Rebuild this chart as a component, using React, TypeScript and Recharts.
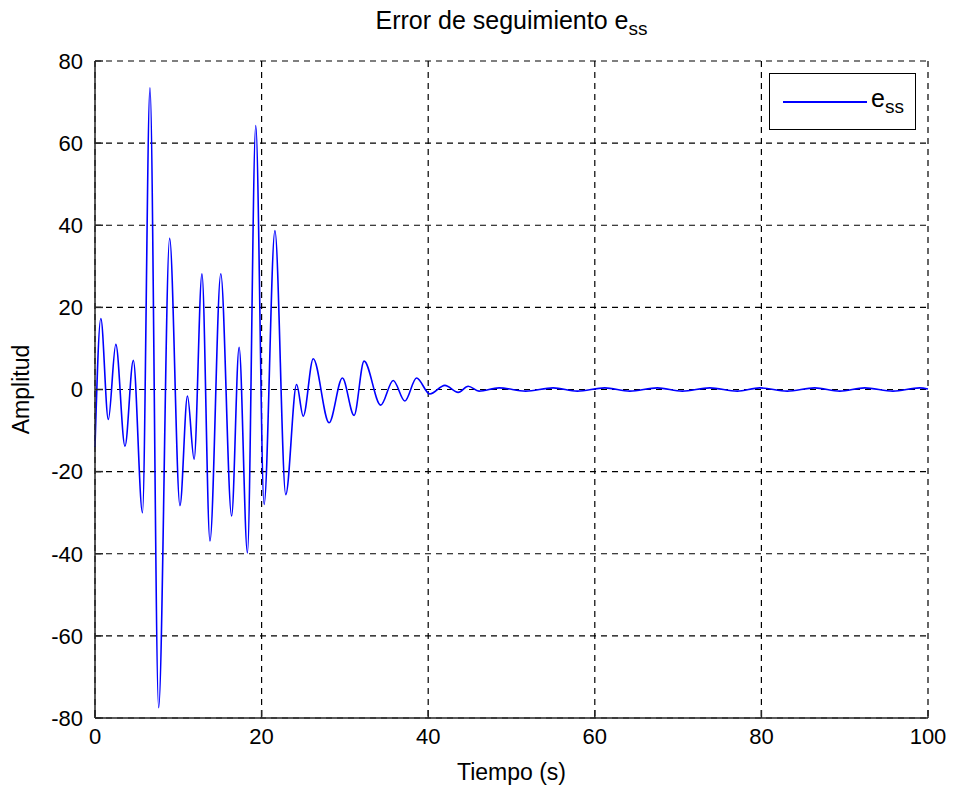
import React from 'react';
import { LineChart, Line, XAxis, YAxis, CartesianGrid } from 'recharts';

// tiempo (s) and tracking error e_ss
const tiempo = [
  0, 0.7, 1.6, 2.5, 3.6, 4.6, 5.7, 6.6, 7.64, 8.96, 10.2, 11.1, 11.9, 12.84, 13.8, 15.1,
  16.4, 17.3, 18.3, 19.3, 20.3, 21.6, 22.9, 24.2, 25.0, 26.2, 28.1, 29.7, 31.1, 32.3,
  34.3, 35.8, 37.2, 38.6, 40.2, 42.0, 43.6, 44.8, 46.1, 48.5, 51.7, 55.0, 57.9, 61.2,
  64.2, 67.5, 70.5, 73.8, 77.1, 79.8, 83.1, 86.4, 89.4, 92.4, 95.8, 99.0, 100
];
const ess = [
  -14, 17.3, -7.3, 11, -13.8, 7.1, -30, 73.5, -77.5, 36.8, -28.3, -1.6, -17, 28.2, -36.9, 28.2,
  -30.8, 10.3, -39.8, 64.3, -28, 38.7, -25.6, 1.2, -6.5, 7.5, -8.1, 2.8, -6.3, 6.9,
  -3.8, 2.2, -2.8, 2.8, -1.1, 1.0, -0.7, 0.8, -0.4, 0.4, -0.4, 0.4, -0.4, 0.4,
  -0.4, 0.4, -0.4, 0.4, -0.4, 0.4, -0.4, 0.4, -0.4, 0.4, -0.4, 0.4, 0.1
];

const xTicks = [0, 20, 40, 60, 80, 100];
const yTicks = [-80, -60, -40, -20, 0, 20, 40, 60, 80];

const data = tiempo.map((t, i) => ({ t, ess: ess[i] }));

const font = '"Liberation Sans", Arial, sans-serif';
const axisColor = '#262626';
const tickStyle = { fill: '#000', fontSize: 22, fontFamily: font };

// legend drawn as an overlay so it doesn't eat into the plot area
const LegendBox = () => (
  <div
    style={{
      position: 'absolute',
      left: 769,
      top: 73,
      width: 145,
      height: 55,
      border: '1.5px solid #000',
      background: '#fff',
      fontFamily: font,
    }}
  >
    <div style={{ position: 'absolute', left: 13, top: 27, width: 84, height: 1.5, background: '#0000ff' }} />
    <div style={{ position: 'absolute', left: 101, top: 12, fontSize: 25, color: '#000', lineHeight: 1 }}>
      e<sub style={{ fontSize: 19 }}>ss</sub>
    </div>
  </div>
);

const App: React.FC = () => {
  return (
    <div style={{ position: 'absolute', left: 0, top: 0, width: 954, height: 792, background: '#fff' }}>
      <LineChart width={954} height={792} data={data} margin={{ top: 61, right: 26, left: 35, bottom: 24 }}>
        <CartesianGrid stroke="#000" strokeDasharray="6 5" strokeWidth={1.2} />
        <XAxis
          dataKey="t"
          type="number"
          domain={[0, 100]}
          ticks={xTicks}
          interval={0}
          height={50}
          tickSize={-8}
          tickMargin={18}
          tick={tickStyle}
          axisLine={{ stroke: axisColor, strokeWidth: 1.5 }}
          tickLine={{ stroke: axisColor, strokeWidth: 1.5 }}
          label={{ value: 'Tiempo (s)', position: 'insideBottom', offset: -12, fill: '#000', fontSize: 23, fontFamily: font }}
        />
        <XAxis
          xAxisId="top"
          orientation="top"
          dataKey="t"
          type="number"
          domain={[0, 100]}
          ticks={xTicks}
          height={0}
          tickSize={-8}
          tick={false}
          axisLine={{ stroke: axisColor, strokeWidth: 1.5 }}
          tickLine={{ stroke: axisColor, strokeWidth: 1.5 }}
        />
        <YAxis
          type="number"
          domain={[-80, 80]}
          ticks={yTicks}
          interval={0}
          width={60}
          tickSize={-8}
          tickMargin={20}
          tick={tickStyle}
          axisLine={{ stroke: axisColor, strokeWidth: 1.5 }}
          tickLine={{ stroke: axisColor, strokeWidth: 1.5 }}
          label={{ value: 'Amplitud', angle: -90, position: 'insideLeft', offset: -14, fill: '#000', fontSize: 23, fontFamily: font, style: { textAnchor: 'middle' } }}
        />
        <YAxis
          yAxisId="right"
          orientation="right"
          type="number"
          domain={[-80, 80]}
          ticks={yTicks}
          width={0}
          tickSize={-8}
          tick={false}
          axisLine={{ stroke: axisColor, strokeWidth: 1.5 }}
          tickLine={{ stroke: axisColor, strokeWidth: 1.5 }}
        />
        <Line
          type="monotone"
          dataKey="ess"
          stroke="#0000ff"
          strokeWidth={1.6}
          dot={false}
          isAnimationActive={false}
        />
      </LineChart>
      <div
        style={{
          position: 'absolute',
          left: 95,
          width: 833,
          top: 6,
          textAlign: 'center',
          fontFamily: font,
          fontSize: 25,
          color: '#000',
        }}
      >
        Error de seguimiento e<sub style={{ fontSize: 19 }}>ss</sub>
      </div>
      <LegendBox />
    </div>
  );
};

export default App;
